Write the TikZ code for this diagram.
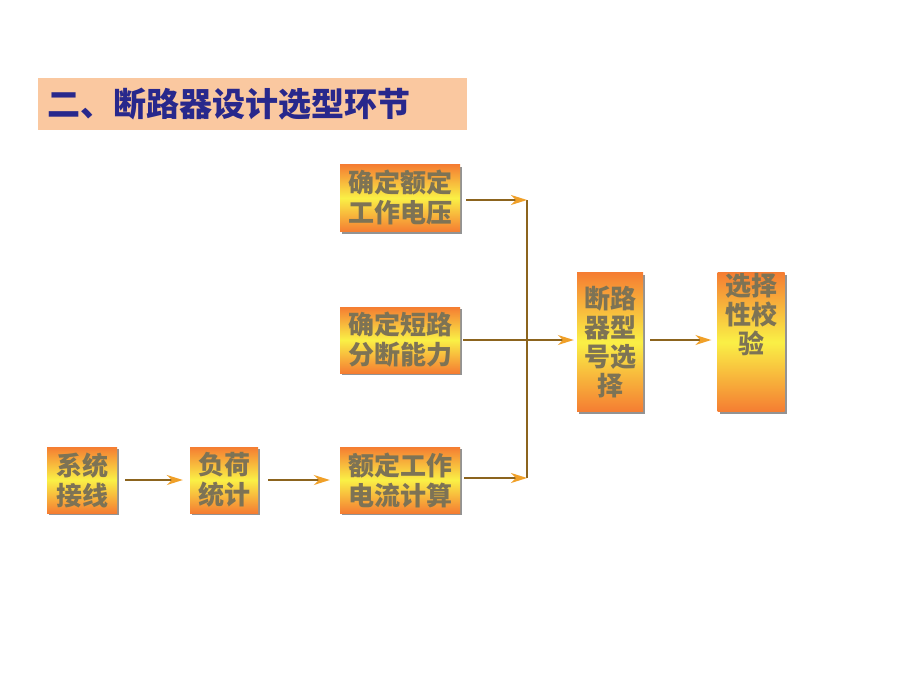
\documentclass[tikz,border=0pt]{standalone}
\usepackage{fontspec}
\newfontfamily\cjk{Noto Sans CJK SC}
\usetikzlibrary{arrows.meta,shadows}
\definecolor{ttl}{RGB}{40,40,140}
\definecolor{peach}{RGB}{250,200,160}
\definecolor{boxo}{RGB}{245,125,50}
\definecolor{boxy}{RGB}{250,240,70}
\definecolor{txt}{RGB}{125,115,85}
\definecolor{arr}{RGB}{140,100,30}
\definecolor{tip}{RGB}{240,160,40}
\begin{document}
\begin{tikzpicture}[x=1pt,y=-1pt,
  box/.style={draw=none,inner sep=0pt,align=center,text=txt,
    font=\cjk\bfseries\fontsize{26}{30}\selectfont,
    top color=boxo,bottom color=boxo,middle color=boxy,
    drop shadow={shadow xshift=2pt,shadow yshift=-2pt,fill=black!60,opacity=.7}},
  con/.style={arr,line width=1.6pt},
  ar/.style={con,-{Stealth[length=16pt,width=10pt,inset=5pt,color=tip]}}]
\useasboundingbox (0,0) rectangle (920,690);
\fill[white] (0,0) rectangle (920,690);
\node[fill=peach,minimum width=429pt,minimum height=52pt,anchor=north west,inner sep=0pt] (title) at (38,78) {};
\node[anchor=west,text=ttl,font=\cjk\bfseries\fontsize{33}{36}\selectfont] (tt) at (44,104) {二、断路器设计选型环节};
\node[box,minimum width=120pt,minimum height=67pt] (b1) at (400,198) {确定额定\\工作电压};
\node[box,minimum width=120pt,minimum height=66pt] (b2) at (400,340) {确定短路\\分断能力};
\node[box,minimum width=120pt,minimum height=66pt] (b3) at (400,480) {额定工作\\电流计算};
\node[box,minimum width=70pt,minimum height=66pt] (b4) at (82,480) {系统\\接线};
\node[box,minimum width=68pt,minimum height=66pt] (b5) at (224,480) {负荷\\统计};
\node[box,minimum width=66pt,minimum height=139pt,font=\cjk\bfseries\fontsize{26}{29}\selectfont] (b6) at (610,342) {断路\\器型\\号选\\择};
\node[box,minimum width=67pt,minimum height=139pt,font=\cjk\bfseries\fontsize{26}{29}\selectfont] (b7) at (751,342) {选择\\性校\\验\\[29pt]};
\coordinate (j1) at (527,200);
\coordinate (j3) at (527,478);
\draw[con] (j1) -- (j3);
\draw[ar] ([xshift=6pt]b1.east|-j1) -- (j1);
\draw[ar] ([xshift=4pt]b3.east|-j3) -- (j3);
\draw[ar] ([xshift=3pt]b2.east) -- ([xshift=-3pt]b6.west|-b2.east);
\draw[ar] ([xshift=8pt]b4.east) -- ([xshift=-7pt]b5.west);
\draw[ar] ([xshift=10pt]b5.east) -- ([xshift=-10pt]b3.west);
\draw[ar] ([xshift=7pt]b6.east|-b2.east) -- ([xshift=-6pt]b7.west|-b2.east);
\end{tikzpicture}
\end{document}
